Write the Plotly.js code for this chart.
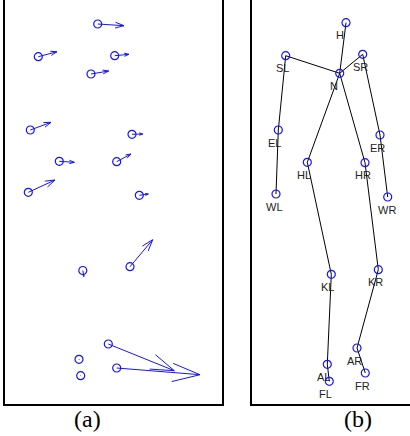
<!DOCTYPE html>
<html>
<head>
<meta charset="utf-8">
<script src="https://cdn.plot.ly/plotly-3.0.1.min.js"></script>
<style>html,body{margin:0;padding:0;background:#fff;}#chart{width:410px;height:436px;}</style>
</head>
<body>
<div id="chart"></div>
<script>
// Panel (a): vector field (origin x, y and displacement u, v; y grows downward)
const qx = [92.7, 33.3, 109.7, 86.0, 25.3, 127.0, 54.3, 111.7, 23.3, 134.3, 77.8, 125.0, 103.3, 74.0, 111.7, 75.7];
const qy = [24.0, 56.7, 55.7, 74.0, 130.0, 134.3, 161.3, 161.7, 192.3, 195.3, 270.5, 266.7, 344.0, 359.3, 368.0, 375.7];
const qu = [26.3, 18.7, 14.3, 17.7, 20.7, 10.7, 15.0, 14.3, 26.7, 9.0, 1.0, 22.7, 66.0, 0.4, 83.3, 0.4];
const qv = [1.7, -5.0, -1.4, -3.0, -7.7, -0.3, 1.0, -7.7, -12.3, -1.3, 6.0, -27.0, 26.7, 0.4, 6.7, 0.3];

// Panel (b): skeleton joints
const joints = ["H", "SL", "SR", "N", "EL", "ER", "HL", "HR", "WL", "WR", "KL", "KR", "AL", "FL", "AR", "FR"];
const jx = [94.0, 33.7, 110.7, 87.7, 26.3, 128.0, 55.3, 113.0, 24.0, 135.7, 79.3, 126.3, 75.3, 77.3, 105.0, 113.3];
const jy = [22.7, 55.7, 54.3, 73.3, 130.0, 135.0, 162.3, 162.7, 194.0, 197.0, 274.3, 269.7, 364.3, 381.3, 348.0, 373.0];
const bones = [["H","N"],["N","SL"],["N","SR"],["SL","EL"],["EL","WL"],["SR","ER"],["ER","WR"],
               ["N","HL"],["N","HR"],["HL","KL"],["KL","AL"],["AL","FL"],["HR","KR"],["KR","AR"],["AR","FR"]];
const panelLabels = ["(a)", "(b)"];

// quiver arrows (MATLAB-style heads)
const alpha = 0.33, beta = 0.33;
const ax = [], ay = [];
for (let i = 0; i < qx.length; i++) {
  const x0 = qx[i], y0 = qy[i], u = qu[i], v = qv[i];
  const tx = x0 + u, ty = y0 + v;
  ax.push(x0, tx, null);
  ay.push(y0, ty, null);
  ax.push(tx - alpha * (u + beta * v), tx, tx - alpha * (u - beta * v), null);
  ay.push(ty - alpha * (v - beta * u), ty, ty - alpha * (v + beta * u), null);
}

const bx = [], by = [];
bones.forEach(([a, b]) => {
  const i = joints.indexOf(a), j = joints.indexOf(b);
  bx.push(jx[i], jx[j], null);
  by.push(jy[i], jy[j], null);
});

const blue = "rgb(20,20,255)";
const traces = [
  {x: ax, y: ay, xaxis: "x", yaxis: "y", mode: "lines", line: {color: blue, width: 1}, hoverinfo: "skip"},
  {x: qx, y: qy, xaxis: "x", yaxis: "y", mode: "markers",
   marker: {symbol: "circle-open", size: 8, color: blue, line: {width: 1.2, color: blue}}},
  {x: bx, y: by, xaxis: "x2", yaxis: "y2", mode: "lines", line: {color: "black", width: 1}, hoverinfo: "skip"},
  {x: jx, y: jy, xaxis: "x2", yaxis: "y2", mode: "markers",
   marker: {symbol: "circle-open", size: 8, color: blue, line: {width: 1.2, color: blue}}}
];

const annotations = joints.map((n, i) => ({
  x: jx[i], y: jy[i], xref: "x2", yref: "y2", text: n, showarrow: false,
  xanchor: "left", yanchor: "middle", xshift: -12, yshift: -12.5,
  font: {family: "Liberation Sans, Arial, sans-serif", size: 11, color: "#222"}
}));
annotations.push(
  {x: 87.2 / 410, y: -15 / 404, xref: "paper", yref: "paper", text: panelLabels[0], showarrow: false,
   xanchor: "center", yanchor: "middle", font: {family: "Liberation Serif, Times New Roman, serif", size: 24, color: "black"}},
  {x: 358.3 / 410, y: -15 / 404, xref: "paper", yref: "paper", text: panelLabels[1], showarrow: false,
   xanchor: "center", yanchor: "middle", font: {family: "Liberation Serif, Times New Roman, serif", size: 24, color: "black"}}
);

const axisCommon = {showgrid: false, zeroline: false, showticklabels: false, ticks: "", fixedrange: true};
const layout = {
  width: 410, height: 436,
  margin: {l: 0, r: 0, t: 0, b: 32, pad: 0},
  paper_bgcolor: "white", plot_bgcolor: "white",
  showlegend: false,
  xaxis: Object.assign({}, axisCommon, {domain: [5 / 410, 222 / 410], range: [0, 217], showline: true, linecolor: "black", linewidth: 1.6, mirror: false}),
  yaxis: Object.assign({}, axisCommon, {domain: [0, 1], range: [404, 0], showline: true, linecolor: "black", linewidth: 1.6, mirror: true}),
  xaxis2: Object.assign({}, axisCommon, {domain: [252 / 410, 1], range: [0, 158], anchor: "y2", showline: true, linecolor: "black", linewidth: 1.6, mirror: false}),
  yaxis2: Object.assign({}, axisCommon, {domain: [0, 1], range: [404, 0], anchor: "x2", showline: true, linecolor: "black", linewidth: 1.6, mirror: false}),
  annotations: annotations
};

Plotly.newPlot("chart", traces, layout, {displayModeBar: false, staticPlot: true});
</script>
</body>
</html>
